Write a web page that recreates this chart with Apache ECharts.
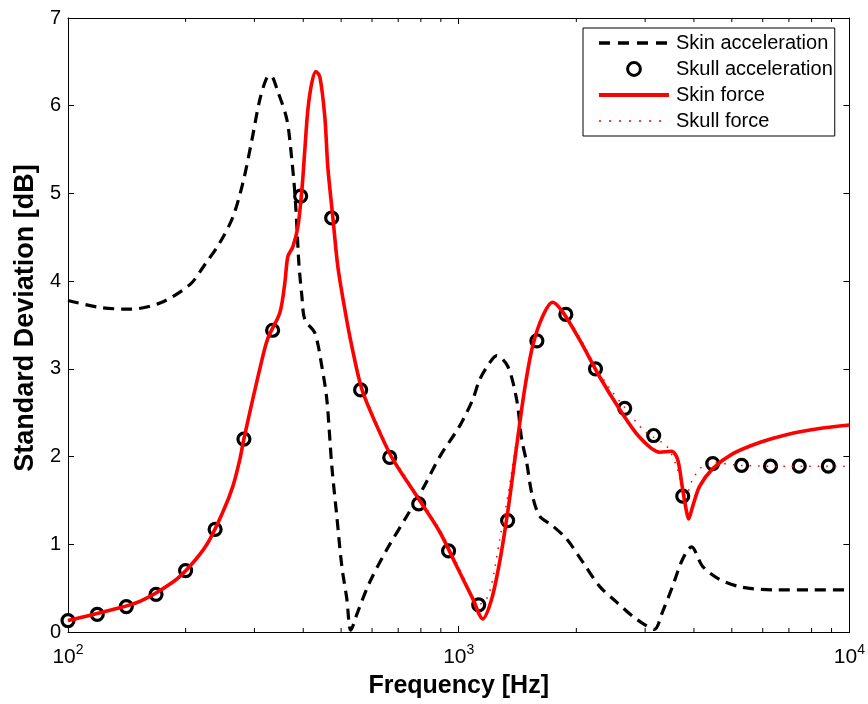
<!DOCTYPE html>
<html><head><meta charset="utf-8">
<script src="https://cdn.jsdelivr.net/npm/echarts@6/dist/echarts.min.js"></script>
<style>html,body{margin:0;padding:0;background:#fff}#c{width:868px;height:704px}</style>
</head><body><div id="c"></div>
<script>
// ---- data ----
const skinAccFreq = [100,120.7,144.1,171.9,205.1,224.1,244.8,264.2,280.3,295.6,309.7,322.8,330.5,344.4,363.3,374.1,380.8,385.3,389.9,396.8,403.8,428.3,446.3,459.7,473.4,487.5,502.1,517.1,529.4,551.6,592.1,654.6,736.2,808.7,894.4,1006,1086,1132,1200,1251,1335,1407,1449,1493,1537,1612,1739,1889,2076,2294,2536,2786,3026,3171,3324,3526,3741,3944,4207,4650,5326,6506,8043,10000];
const skinAccVal  = [3.78,3.70,3.68,3.75,3.96,4.19,4.44,4.73,5.12,5.61,6.07,6.32,6.34,6.16,5.84,5.38,5.00,4.62,4.20,3.83,3.56,3.41,3.03,2.65,1.89,1.32,0.75,0.38,0.02,0.23,0.57,0.94,1.32,1.63,2.00,2.35,2.65,2.88,3.07,3.15,3.03,2.65,2.20,1.93,1.59,1.32,1.21,1.06,0.80,0.52,0.34,0.18,0.07,0.03,0.23,0.52,0.83,0.97,0.75,0.60,0.51,0.48,0.48,0.48];

const skullAccFreq = [100,118.8,141,168,200,238,282,334,394,473,561,666,790,942,1125,1334,1585,1880,2239,2660,3155,3744,4467,5297,6281,7440,8830];
const skullAccVal  = [0.13,0.20,0.29,0.43,0.70,1.17,2.20,3.44,4.97,4.72,2.76,1.99,1.46,0.925,0.31,1.27,3.32,3.62,3.00,2.55,2.24,1.55,1.92,1.90,1.89,1.89,1.89];

const skinForceFreq = [100,125.8,152.8,185.6,205.1,226.8,249.2,264.2,275.4,281.9,309.7,324.8,348.5,358.9,365.3,376.2,387.6,396.8,403.8,411.0,420.7,430.8,441.1,454.3,462.4,476.2,490.4,511.0,532.5,564.8,617.1,678.0,780.8,894.4,988.3,1086,1152,1215,1273,1335,1407,1475,1546,1640,1739,1845,2040,2294,2581,2904,3267,3506,3632,3741,3830,3875,3968,4135,4463,5021,5887,6901,8383,10000];
const skinForceVal  = [0.13,0.24,0.35,0.57,0.75,1.00,1.37,1.66,1.97,2.20,3.00,3.35,3.64,3.98,4.28,4.39,4.62,5.04,5.50,5.95,6.26,6.39,6.33,5.87,5.30,4.73,4.17,3.68,3.26,2.77,2.35,1.97,1.55,1.14,0.75,0.38,0.15,0.38,0.80,1.37,2.12,2.77,3.26,3.60,3.76,3.65,3.33,2.91,2.54,2.22,2.05,2.06,1.97,1.63,1.37,1.29,1.43,1.66,1.86,2.03,2.16,2.25,2.32,2.36];

const skullForceFreq = [100,125.8,152.8,185.6,205.1,226.8,249.2,264.2,275.4,281.9,309.7,324.8,348.5,358.9,365.3,376.2,387.6,396.8,403.8,411.0,420.7,430.8,441.1,454.3,462.4,476.2,490.4,511.0,532.5,564.8,617.1,678.0,780.8,894.4,988.3,1067,1118,1172,1215,1273,1335,1407,1475,1546,1640,1739,1845,2040,2240,2433,2659,2955,3155,3404,3610,3741,3807,3968,4207,4463,5233,6622,10000];
const skullForceVal  = [0.13,0.24,0.35,0.57,0.75,1.00,1.37,1.66,1.97,2.20,3.00,3.35,3.64,3.98,4.28,4.39,4.62,5.04,5.50,5.95,6.26,6.39,6.33,5.87,5.30,4.74,4.19,3.71,3.29,2.80,2.38,2.00,1.57,1.17,0.79,0.47,0.31,0.36,0.55,1.05,1.55,2.20,2.80,3.28,3.60,3.76,3.66,3.36,3.02,2.78,2.56,2.31,2.22,2.12,1.89,1.63,1.55,1.74,1.89,1.93,1.90,1.89,1.89];

const minorTickFreq = [200,300,400,500,600,700,800,900,2000,3000,4000,5000,6000,7000,8000,9000];
const seriesNames = ['Skin acceleration','Skull acceleration','Skin force','Skull force'];
const xTitle = 'Frequency [Hz]';
const yTitle = 'Standard Deviation [dB]';

// ---- chart ----
const FONT = '"Liberation Sans", Arial, Helvetica, sans-serif';
const pair = (xs, ys) => xs.map((x, i) => [x, ys[i]]);
const chart = echarts.init(document.getElementById('c'), null, {renderer: 'canvas'});
const axisLine = {show: true, onZero: false, lineStyle: {color: '#000', width: 1}};
const tickIn = {show: true, inside: true, length: 6, lineStyle: {color: '#000', width: 1}};

const option = {
  animation: false,
  backgroundColor: '#fff',
  grid: {left: 68, right: 18, top: 18, bottom: 71, containLabel: false},
  xAxis: [{
    type: 'log', logBase: 10, min: 100, max: 10000, position: 'bottom',
    axisLine: axisLine, axisTick: tickIn, splitLine: {show: false},
    axisLabel: {
      margin: 11, color: '#000',
      formatter: v => '{b|10}{s|' + Math.round(Math.log10(v)) + '}',
      rich: {
        b: {fontFamily: FONT, fontSize: 21, color: '#000', verticalAlign: 'bottom'},
        s: {fontFamily: FONT, fontSize: 14, color: '#000', verticalAlign: 'bottom', padding: [0, 0, 11, 0]}
      }
    },
    name: xTitle, nameLocation: 'middle', nameGap: 42,
    nameTextStyle: {fontFamily: FONT, fontWeight: 'bold', fontSize: 25, color: '#000'}
  }, {
    type: 'log', logBase: 10, min: 100, max: 10000, position: 'top',
    axisLine: axisLine, axisTick: tickIn, axisLabel: {show: false}, splitLine: {show: false}
  }],
  yAxis: [{
    type: 'value', min: 0, max: 7, interval: 1, position: 'left',
    axisLine: axisLine, axisTick: tickIn, splitLine: {show: false},
    axisLabel: {margin: 7, fontFamily: FONT, fontSize: 20, color: '#000'},
    name: yTitle, nameLocation: 'middle', nameGap: 27,
    nameTextStyle: {fontFamily: FONT, fontWeight: 'bold', fontSize: 27, color: '#000', padding: [0, 0, 0, 14]}
  }, {
    type: 'value', min: 0, max: 7, interval: 1, position: 'right',
    axisLine: axisLine, axisTick: tickIn, axisLabel: {show: false}, splitLine: {show: false}
  }],
  legend: {
    orient: 'vertical', left: 583, top: 28,
    itemWidth: 70, itemHeight: 16, itemGap: 6,
    padding: [5, 2, 5, 14],
    borderColor: '#000', borderWidth: 1, backgroundColor: '#fff',
    textStyle: {fontFamily: FONT, fontSize: 20, color: '#000', padding: [0, 0, 0, 2]},
    data: [
      {name: seriesNames[0], itemStyle: {opacity: 0}, lineStyle: {width: 3.5, type: [11, 8]}},
      {name: seriesNames[1], lineStyle: {opacity: 0}, itemStyle: {borderWidth: 3}},
      {name: seriesNames[2], itemStyle: {opacity: 0}, lineStyle: {width: 4}},
      {name: seriesNames[3], itemStyle: {opacity: 0}, lineStyle: {width: 1.5, type: [2, 8]}}
    ]
  },
  series: [
    {
      type: 'custom', name: 'minorTicks', silent: true, clip: false, z: 1,
      data: minorTickFreq.map(f => [f, 0]),
      renderItem: (params, api) => {
        const f = api.value(0);
        const b = api.coord([f, 0]);
        const t = api.coord([f, 7]);
        return {type: 'group', children: [
          {type: 'line', shape: {x1: b[0], y1: b[1], x2: b[0], y2: b[1] - 4}, style: {stroke: '#000', lineWidth: 1}},
          {type: 'line', shape: {x1: t[0], y1: t[1], x2: t[0], y2: t[1] + 4}, style: {stroke: '#000', lineWidth: 1}}
        ]};
      }
    },
    {
      type: 'line', name: seriesNames[0], data: pair(skinAccFreq, skinAccVal), z: 2,
      smooth: 0.3, showSymbol: false, symbol: 'circle',
      itemStyle: {color: '#000'},
      lineStyle: {color: '#000', width: 3.2, type: [11, 7]}
    },
    {
      type: 'line', name: seriesNames[1], data: pair(skullAccFreq, skullAccVal), z: 3,
      showSymbol: true, symbol: 'circle', symbolSize: 12,
      itemStyle: {color: '#fff', borderColor: '#000', borderWidth: 3.2},
      lineStyle: {width: 0, opacity: 0}
    },
    {
      type: 'line', name: seriesNames[2], data: pair(skinForceFreq, skinForceVal), z: 4,
      smooth: 0.3, showSymbol: false, symbol: 'circle',
      itemStyle: {color: '#ff0000'},
      lineStyle: {color: '#ff0000', width: 3.6}
    },
    {
      type: 'line', name: seriesNames[3], data: pair(skullForceFreq, skullForceVal), z: 4,
      smooth: 0.3, showSymbol: false, symbol: 'circle',
      itemStyle: {color: '#ff0000'},
      lineStyle: {color: '#ff0000', width: 1.5, type: [1.5, 7]}
    }
  ]
};
chart.setOption(option);
</script>
</body></html>
